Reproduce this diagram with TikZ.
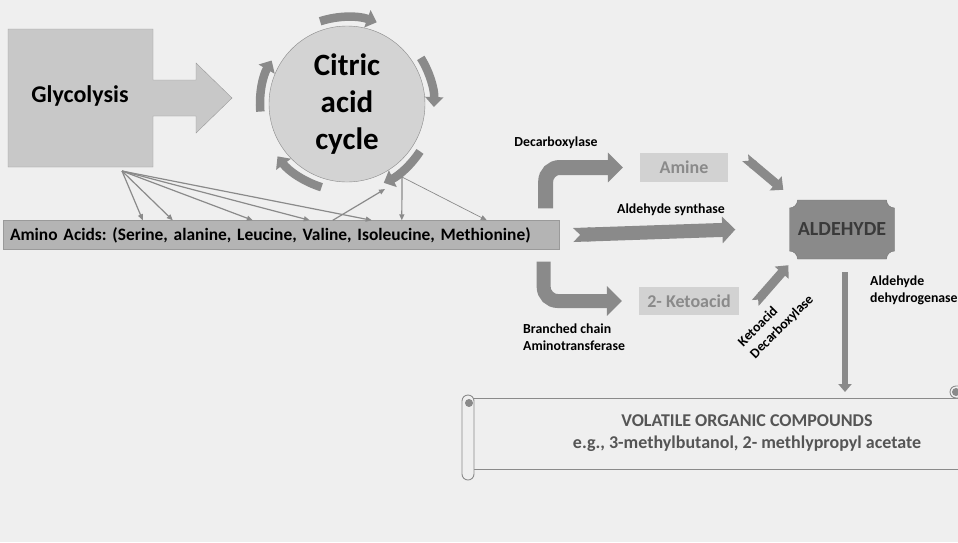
\documentclass[tikz,border=0pt]{standalone}
\usepackage{fontspec}
\setmainfont{Carlito}
\usetikzlibrary{arrows.meta}
\frenchspacing

\definecolor{paper}{HTML}{EFEFEF}
\definecolor{boxgrey}{HTML}{C8C8C8}
\definecolor{cyclegrey}{HTML}{D3D3D3}
\definecolor{bargrey}{HTML}{B4B4B4}
\definecolor{edgegrey}{HTML}{9A9A9A}
\definecolor{arrowgrey}{HTML}{8A8A8A}
\definecolor{productgrey}{HTML}{D2D2D2}
\definecolor{inkgrey}{HTML}{3A3A3A}
\definecolor{vocgrey}{HTML}{555555}

\tikzset{%
          every enzyme/.style={
            font=\bfseries\fontsize{13.8}{17}\selectfont,
            text=black,
            align=left,
            inner sep=0pt
          },
          every product/.style={
            fill=productgrey,
            text=arrowgrey,
            font=\bfseries\fontsize{18}{21}\selectfont,
            inner sep=0pt
          },
          fat arrow/.style={
            draw=arrowgrey,
            line width=15pt,
            -{Triangle[length=15pt, width=29pt]}
          },
          feed line/.style={
            draw=arrowgrey,
            line width=1.2pt,
            -{Triangle[length=6pt, width=5pt]}
          },
          cycle arrow/.style={
            draw=arrowgrey,
            line width=8.5pt,
            -{Triangle[length=10pt, width=18pt]}
          },
          scroll line/.style={
            draw=arrowgrey,
            line width=0.9pt
          },
        }

\begin{document}
\begin{tikzpicture}[x=1pt, y=-1pt, >=stealth]
        \useasboundingbox [fill=paper] (0,0) rectangle (958,542);

        % glycolysis block with its arrow into the cycle
        \path [draw=edgegrey, fill=boxgrey] (8,29) -- (153,29) -- (153,80) -- (196,80) -- (196,63)
              -- (232,98) -- (196,133) -- (196,116) -- (153,116) -- (153,167) -- (8,167) -- cycle;
        \node [font=\bfseries\fontsize{24}{28}\selectfont, anchor=base] (glyco) at (80,102) {Glycolysis};

        \node [circle, draw=arrowgrey, fill=cyclegrey, minimum size=156pt, align=center,
               font=\bfseries\fontsize{31}{37}\selectfont] (tca) at (347,104) {Citric\\acid\\cycle};
        \foreach \from/\to in {-108/-70, -32/2, 33/65, 107/143, -185/-150}
          \draw [cycle arrow] ([shift={(\from:87)}]tca.center) arc [start angle=\from, end angle=\to, radius=87];

        \node [draw=edgegrey, fill=bargrey, minimum width=556pt, minimum height=29pt, text width=542pt,
               inner xsep=7pt, align=left, font=\bfseries\fontsize{17.4}{20}\selectfont] (amino) at (281,235)
              {Amino Acids: (Serine, alanine, Leucine, Valine, Isoleucine, Methionine)};

        \coordinate (glyfoot) at (122,171);
        \coordinate (tcafoot) at (402,177);
        \coordinate (tcaring) at (385,189);

        \foreach \dx in {140,170,250,307,369}
          \path [feed line] (glyfoot) -- ([xshift=\dx pt]amino.north west);
        \path [feed line] ([xshift=330pt]amino.north west) -- (tcaring);
        \path [feed line] (tcafoot) -- ([xshift=399pt]amino.north west);
        \path [feed line, line width=0.7pt] (tcafoot) -- ([xshift=484pt]amino.north west);

        % products
        \node [every product, minimum width=88pt, minimum height=29pt] (amine) at (684,167.5) {Amine};
        \node [every product, minimum width=100pt, minimum height=28pt] (keto) at (689,301) {2- Ketoacid};

        \path [draw=inkgrey!70, fill=arrowgrey] (797.5,200) -- (886.5,200) arc [start angle=180, end angle=90, radius=8]
              -- (894.5,251) arc [start angle=270, end angle=180, radius=8]
              -- (797.5,259) arc [start angle=360, end angle=270, radius=8]
              -- (789.5,208) arc [start angle=90, end angle=0, radius=8] -- cycle;
        \node [minimum width=105pt, minimum height=59pt, text=inkgrey,
               font=\bfseries\fontsize{20}{23}\selectfont] (aldehyde) at (842,229.5) {ALDEHYDE};

        \path [fat arrow, rounded corners=14pt] ([xshift=-13.5pt, yshift=12pt]amino.north east) |- ([xshift=-17pt]amine.west);
        \path [fat arrow, line width=14pt, rounded corners=14pt] ([xshift=-15.5pt, yshift=-12pt]amino.south east) |- ([xshift=-17pt]keto.west);
        \path [fat arrow, line width=14pt, {Triangle Cap[reversed]}-{Triangle[length=13pt, width=26pt]}]
              ([xshift=14pt]amino.east) -- ([xshift=-54pt]aldehyde.west);
        \path [fat arrow, line width=9pt, {Triangle Cap[reversed]}-{Triangle[length=10pt, width=18pt]}]
              ([xshift=17pt, yshift=-5pt]amine.north east) -- ([xshift=-6pt, yshift=10pt]aldehyde.north west);
        \path [fat arrow, line width=9pt, {Triangle Cap[reversed]}-{Triangle[length=10pt, width=18pt]}]
              ([xshift=16pt, yshift=-2pt]keto.east) -- ([xshift=-1pt, yshift=-6pt]aldehyde.south west);

        \node [every enzyme] (decarb) at (556,143) {Decarboxylase};
        \node [every enzyme] (synth) at (671,210) {Aldehyde synthase};
        \node [every enzyme, anchor=west] (bcat) at (523,337) {Branched chain\\Aminotransferase};
        \node [every enzyme, anchor=west] (aldh) at (870,290) {Aldehyde\\dehydrogenase};
        \node [every enzyme, rotate=45] (kdc) at (776,321) {Ketoacid\\Decarboxylase};

        % scroll holding the volatile compounds
        \path [scroll line, fill=paper] (468,398) rectangle (962,469);
        \path [scroll line, fill=paper, rounded corners=6pt] (462,395) rectangle (474,480);
        \path [scroll line, fill=arrowgrey] (469,403) circle (3.5);
        \path [scroll line, fill=paper, rounded corners=6pt] (950,386) rectangle (964,398);
        \path [scroll line, fill=arrowgrey] (956,392) circle (3.5);
        \node [text=vocgrey, align=center, font=\bfseries\fontsize{18}{22}\selectfont] (voc) at (747,433)
              {VOLATILE ORGANIC COMPOUNDS\\e.g., 3-methylbutanol, 2- methlypropyl acetate};

        \coordinate (scrolltop) at (845,392);
        \path [draw=arrowgrey, line width=6pt, -{Triangle[length=8pt, width=13pt]}]
              ([xshift=3pt, yshift=-13pt]aldehyde.south) -- (scrolltop);

        \end{tikzpicture}
\end{document}
